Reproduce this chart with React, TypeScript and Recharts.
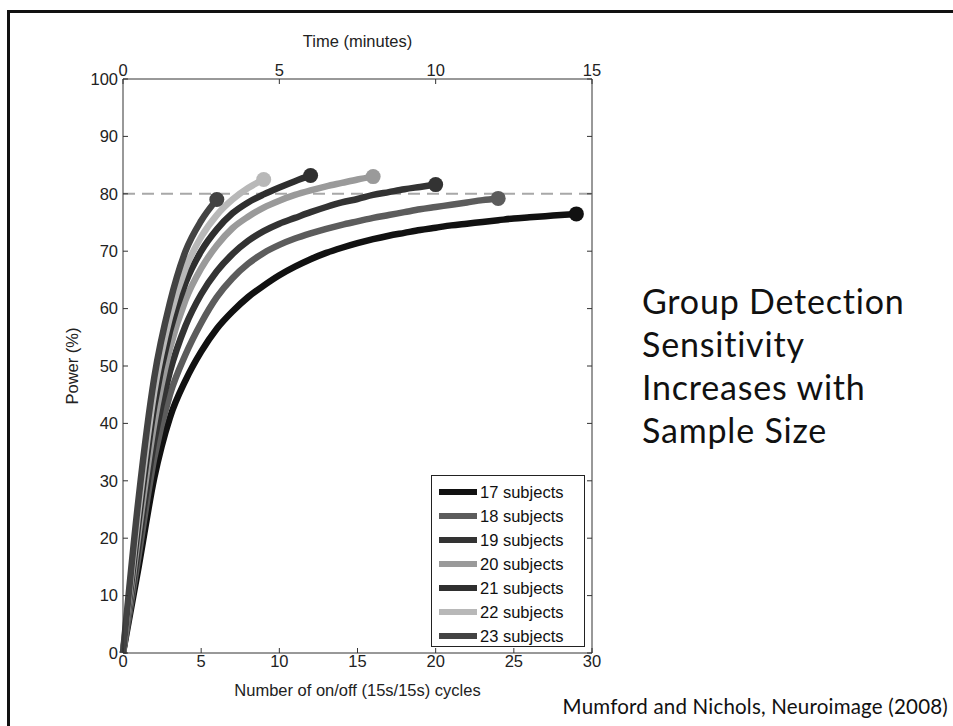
import { Legend, Line, LineChart, ReferenceLine, XAxis, YAxis } from "recharts";

// power (%) at each whole on/off cycle, starting at 0 cycles
const power17 = [0, 15, 30.5, 41, 47.5, 52.5, 56.5, 59.5, 62, 64, 65.8, 67.3, 68.6, 69.7, 70.6, 71.4, 72.1, 72.7, 73.2, 73.7, 74.1, 74.5, 74.8, 75.1, 75.4, 75.7, 75.9, 76.1, 76.3, 76.5];
const power18 = [0, 17, 34, 45, 52, 57.5, 62, 65.3, 67.8, 69.7, 71.1, 72.2, 73.1, 73.9, 74.6, 75.2, 75.8, 76.3, 76.8, 77.3, 77.7, 78.1, 78.5, 78.9, 79.2];
const power19 = [0, 19, 37, 49, 57, 62.5, 66.5, 69.5, 71.8, 73.5, 74.8, 75.8, 76.8, 77.7, 78.5, 79.1, 79.8, 80.3, 80.8, 81.2, 81.6];
const power20 = [0, 21, 40, 53, 61.5, 67, 71, 74, 76, 77.6, 78.8, 79.8, 80.6, 81.3, 81.9, 82.5, 83];
const power21 = [0, 23, 43, 56, 64.5, 70, 73.8, 76.6, 78.5, 79.9, 81.1, 82.2, 83.2];
const power22 = [0, 25, 45.5, 58.5, 67, 72.5, 76.3, 79, 81, 82.5];
const power23 = [0, 27, 48, 61, 70, 75.3, 79];

const subjectLabels = ["17 subjects", "18 subjects", "19 subjects", "20 subjects", "21 subjects", "22 subjects", "23 subjects"];
const lineColors = ["#111111", "#5c5c5c", "#333333", "#9a9a9a", "#2f2f2f", "#b8b8b8", "#434343"];

const cycleTicks = [0, 5, 10, 15, 20, 25, 30];
const minuteTicks = [0, 10, 20, 30]; // cycles; one cycle = 30 s
const powerTicks = [0, 10, 20, 30, 40, 50, 60, 70, 80, 90, 100];
const targetPower = 80;

const series = [power17, power18, power19, power20, power21, power22, power23].map((values, i) => ({
  name: subjectLabels[i],
  color: lineColors[i],
  data: values.map((power, cycle) => ({ cycle, power }))
}));

const axisColor = "#333";
const fontSize = 16.5;
const tickStyle = { fill: "#222", fontSize };

function endDot(lastIndex: number, color: string) {
  return (props: any) => {
    const { cx, cy, index } = props;
    if (index !== lastIndex || cx == null) return <g key={`dot-${index}`} />;
    return <circle key={`dot-${index}`} cx={cx} cy={cy} r={7.5} fill={color} stroke="none" />;
  };
}

function SubjectLegend({ payload }: any) {
  return (
    <div
      style={{
        boxSizing: "border-box",
        width: 154,
        height: 172,
        border: "1px solid #222",
        background: "#fff",
        padding: "4px 0 0 7px",
        fontSize,
        color: "#111"
      }}
    >
      {(payload ?? []).map((item: any) => (
        <div key={item.value} style={{ display: "flex", alignItems: "center", height: 24, whiteSpace: "nowrap" }}>
          <span style={{ display: "inline-block", flex: "none", width: 38, height: 6, background: item.color, marginRight: 3 }} />
          <span>{item.value}</span>
        </div>
      ))}
    </div>
  );
}

export default function App() {
  return (
    <div style={{ position: "absolute", left: 0, top: 0, width: 953, height: 726, background: "#fff", overflow: "hidden" }}>
      <div
        style={{
          position: "absolute",
          left: 7,
          top: 10,
          width: 960,
          height: 730,
          borderLeft: "3px solid #111",
          borderTop: "3px solid #111"
        }}
      />
      <div style={{ position: "absolute", left: 0, top: 0 }}>
        <LineChart
          width={953}
          height={726}
          margin={{ top: 34, right: 351, bottom: 28, left: 63 }}
          style={{ fontFamily: "'Liberation Sans', Arial, sans-serif" }}
        >
          <XAxis
            xAxisId="bottom"
            dataKey="cycle"
            type="number"
            domain={[0, 30]}
            ticks={cycleTicks}
            height={45}
            stroke={axisColor}
            tickSize={-5}
            tickMargin={7}
            tick={tickStyle}
            label={{ value: "Number of on/off (15s/15s) cycles", position: "insideBottom", offset: 2, fill: "#222", fontSize }}
          />
          <XAxis
            xAxisId="top"
            orientation="top"
            dataKey="cycle"
            type="number"
            domain={[0, 30]}
            ticks={minuteTicks}
            tickFormatter={(value) => String(Number(value) / 2)}
            height={45}
            stroke={axisColor}
            tickSize={-5}
            tickMargin={8}
            tick={tickStyle}
            label={{ value: "Time (minutes)", position: "insideTop", offset: 1, fill: "#222", fontSize }}
          />
          <YAxis
            yAxisId="left"
            type="number"
            domain={[0, 100]}
            ticks={powerTicks}
            width={60}
            stroke={axisColor}
            tickSize={-5}
            tickMargin={10}
            tick={tickStyle}
            label={{
              value: "Power (%)",
              angle: -90,
              position: "insideLeft",
              offset: 9,
              fill: "#222",
              fontSize,
              style: { textAnchor: "middle" }
            }}
          />
          <YAxis
            yAxisId="right"
            orientation="right"
            type="number"
            domain={[0, 100]}
            ticks={powerTicks}
            width={10}
            stroke={axisColor}
            tickSize={-5}
            tickFormatter={() => ""}
          />
          <ReferenceLine
            xAxisId="bottom"
            yAxisId="left"
            y={targetPower}
            stroke="#a8a8a8"
            strokeWidth={2}
            strokeDasharray="12 7"
          />
          {series.map((s, i) => (
            <Line
              key={s.name}
              data={s.data}
              dataKey="power"
              name={s.name}
              xAxisId={i === 0 ? "top" : "bottom"}
              yAxisId={i === 1 ? "right" : "left"}
              type="monotone"
              stroke={s.color}
              strokeWidth={6.5}
              dot={endDot(s.data.length - 1, s.color)}
              activeDot={false}
              isAnimationActive={false}
            />
          ))}
          <Legend
            layout="vertical"
            align="center"
            verticalAlign="middle"
            content={<SubjectLegend />}
            wrapperStyle={{ left: 431, top: 475, width: 154, height: 172 }}
          />
        </LineChart>
      </div>
      <div
        style={{
          position: "absolute",
          left: 642,
          top: 279,
          fontFamily: "Lato, 'Open Sans', sans-serif",
          fontSize: 34,
          letterSpacing: 0.8,
          fontVariantLigatures: "none",
          lineHeight: "43px",
          color: "#111"
        }}
      >
        Group Detection
        <br />
        Sensitivity
        <br />
        Increases with
        <br />
        Sample Size
      </div>
      <div
        style={{
          position: "absolute",
          right: 5,
          top: 694,
          fontFamily: "Lato, 'Open Sans', sans-serif",
          fontSize: 20.5,
          letterSpacing: 0.2,
          fontVariantLigatures: "none",
          lineHeight: "24px",
          color: "#111",
          whiteSpace: "nowrap"
        }}
      >
        Mumford and Nichols, Neuroimage (2008)
      </div>
    </div>
  );
}
